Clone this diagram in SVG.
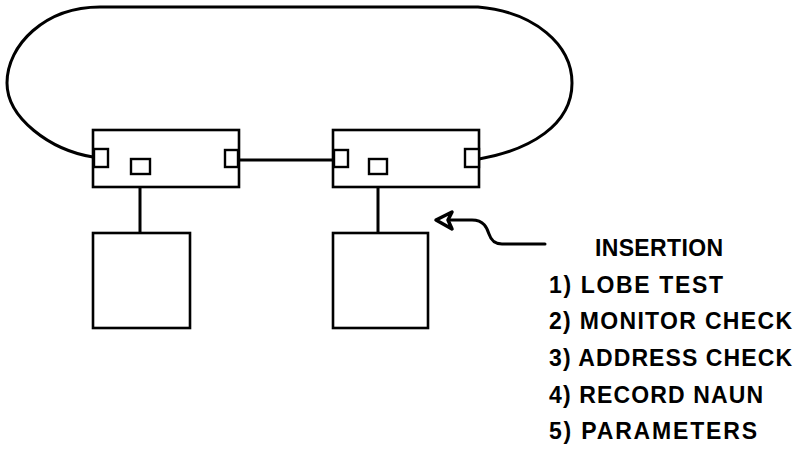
<svg xmlns="http://www.w3.org/2000/svg" width="802" height="449" viewBox="0 0 802 449">
<style>
.box{fill:#fff;stroke:#000;stroke-width:2.6}
.port{fill:#fff;stroke:#000;stroke-width:2.4}
.wire{fill:none;stroke:#000;stroke-width:3;stroke-linecap:round;stroke-linejoin:round}
.lbl{font-family:"Liberation Sans",Arial,sans-serif;font-weight:bold;font-size:23px;fill:#000}
</style>
<rect width="802" height="449" fill="#fff"/>
<g id="connectors">
<path class="wire" d="M93,157 C50,150 7,118 7,83 C7,45 45,7 100,7 L478,7 C535,12 572,45 572,83 C572,125 530,150 479,159"/>
<path class="wire" d="M238,160 L334,160"/>
<path class="wire" d="M140,174 L140,233"/>
<path class="wire" d="M378,174 L378,233"/>
<path class="wire" d="M450,220 L472,220 C484,220 487,228 489,234 C491,240 494,244 502,244 L545,244"/>
<polygon points="436,220 452,212 448,220 452,229" fill="#fff" stroke="#000" stroke-width="3.5" stroke-linejoin="round"/>
</g>
<g id="station1">
<rect class="box" x="93" y="130" width="146" height="57"/>
<rect class="port" x="94" y="149" width="14" height="18"/>
<rect class="port" x="131" y="159" width="19" height="15"/>
<rect class="port" x="225" y="150" width="13" height="17"/>
</g>
<g id="station2">
<rect class="box" x="333" y="130" width="146" height="57"/>
<rect class="port" x="334" y="150" width="14" height="17"/>
<rect class="port" x="369" y="159" width="18" height="15"/>
<rect class="port" x="465" y="149" width="14" height="18"/>
</g>
<g id="device1">
<rect class="box" x="93" y="233" width="97" height="95"/>
</g>
<g id="device2">
<rect class="box" x="333" y="233" width="95" height="95"/>
</g>
<g id="insertion-list">
<text class="lbl" x="595" y="256" textLength="128" lengthAdjust="spacing">INSERTION</text>
<text class="lbl" x="549" y="292.5" textLength="174" lengthAdjust="spacing">1) LOBE TEST</text>
<text class="lbl" x="549" y="329" textLength="243" lengthAdjust="spacing">2) MONITOR CHECK</text>
<text class="lbl" x="549" y="366" textLength="243" lengthAdjust="spacing">3) ADDRESS CHECK</text>
<text class="lbl" x="549" y="403" textLength="214" lengthAdjust="spacing">4) RECORD NAUN</text>
<text class="lbl" x="549" y="439" textLength="208" lengthAdjust="spacing">5) PARAMETERS</text>
</g>
</svg>
